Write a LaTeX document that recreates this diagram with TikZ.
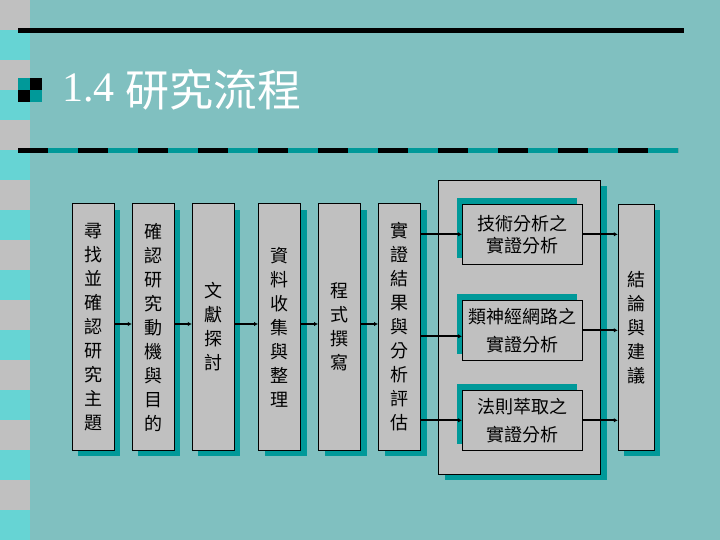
\documentclass[tikz,border=0pt]{standalone}
\usepackage{fontspec}
\setmainfont{Liberation Serif}
\newfontfamily\cjk{Noto Sans CJK TC}
\usetikzlibrary{arrows.meta,shadows}
\definecolor{bgteal}{HTML}{80C0C0}
\definecolor{boxgrey}{HTML}{C0C0C0}
\definecolor{darkteal}{HTML}{009999}
\definecolor{checker}{HTML}{66D4D4}
\begin{document}
\begin{tikzpicture}[x=1pt,y=-1pt,
  shadowbr/.style={general shadow={fill=darkteal, shadow xshift=6pt, shadow yshift=-6pt}},
  shadowtl/.style={general shadow={fill=darkteal, shadow xshift=-6pt, shadow yshift=6pt}},
  vbox/.style={draw=black, line width=1pt, fill=boxgrey, shadowbr, minimum width=42pt, minimum height=246pt, inner sep=0pt, align=center, font=\cjk\fontsize{18}{24}\selectfont},
  hbox/.style={draw=black, line width=1pt, fill=boxgrey, shadowtl, minimum width=120pt, minimum height=60pt, inner sep=0pt, align=center, font=\cjk\fontsize{18}{28}\selectfont},
  frame/.style={draw=black, line width=1pt, fill=boxgrey, shadowbr, minimum width=162pt, minimum height=294pt, inner sep=0pt},
  arr/.style={line width=2pt, -{Latex[length=4pt,width=4.5pt]}}
]
\useasboundingbox (0,0) rectangle (720,540);
\fill[bgteal] (0,0) rectangle (720,540);
% left strip
\foreach \y in {0,60,...,480} {
  \fill[boxgrey] (0,\y) rectangle (30,\y+30);
  \fill[checker] (0,\y+30) rectangle (30,\y+60);
}
% rules
\draw[line width=4.3pt] (18,30.5) -- (684,30.5);
\draw[line width=4.3pt, darkteal] (18,150.5) -- (678,150.5);
\draw[line width=4.3pt, dash pattern=on 30pt off 30pt] (18,150.5) -- (678,150.5);
% bullet
\fill[darkteal] (18,78) rectangle (42,102);
\fill[black] (30,78) rectangle (42,90);
\fill[black] (18,90) rectangle (30,102);
% title
\node[anchor=base west, inner sep=0pt, text=white] (title) at (62,102)
  {\fontsize{42}{42}\selectfont 1.4 \raisebox{-5pt}{\cjk\fontsize{44}{44}\selectfont 研究流程}};
% main boxes
\node[vbox] (b1) at (93.3,327) {尋\\找\\並\\確\\認\\研\\究\\主\\題};
\node[vbox] (b2) at (153.3,327) {確\\認\\研\\究\\動\\機\\與\\目\\的};
\node[vbox] (b3) at (213.3,327) {文\\獻\\探\\討};
\node[vbox] (b4) at (279.5,327) {資\\料\\收\\集\\與\\整\\理};
\node[vbox] (b5) at (339.5,327) {程\\式\\撰\\寫};
\node[vbox] (b6) at (399.5,327) {實\\證\\結\\果\\與\\分\\析\\評\\估};
% container
\node[frame] (ctr) at (519.5,327.2) {};
\node[hbox] (A) at (522.5,234.3) {技術分析之\\[-6pt]實證分析};
\node[hbox] (B) at (522.5,330.3) {類神經網路之\\實證分析};
\node[hbox] (C) at (522.5,420.3) {法則萃取之\\實證分析};
% right box
\node[vbox, minimum width=36pt] (R) at (636.3,327.3) {結\\論\\與\\建\\議};
% connectors
\foreach \a/\b in {b1/b2,b2/b3,b3/b4,b4/b5,b5/b6}
  \draw[arr] ([yshift=3pt]\a.east) -- ([yshift=3pt]\b.west);
\coordinate (Bin) at ([yshift=-6pt]B.west);
\draw[arr] (b6.east |- A.west) -- (A.west);
\draw[arr] (b6.east |- Bin) -- (Bin);
\draw[arr] (b6.east |- C.west) -- (C.west);
\draw[arr] (A.east) -- (R.west |- A.east);
\draw[arr] (B.east) -- (R.west |- B.east);
\draw[arr] (C.east) -- (R.west |- C.east);
\end{tikzpicture}
\end{document}
